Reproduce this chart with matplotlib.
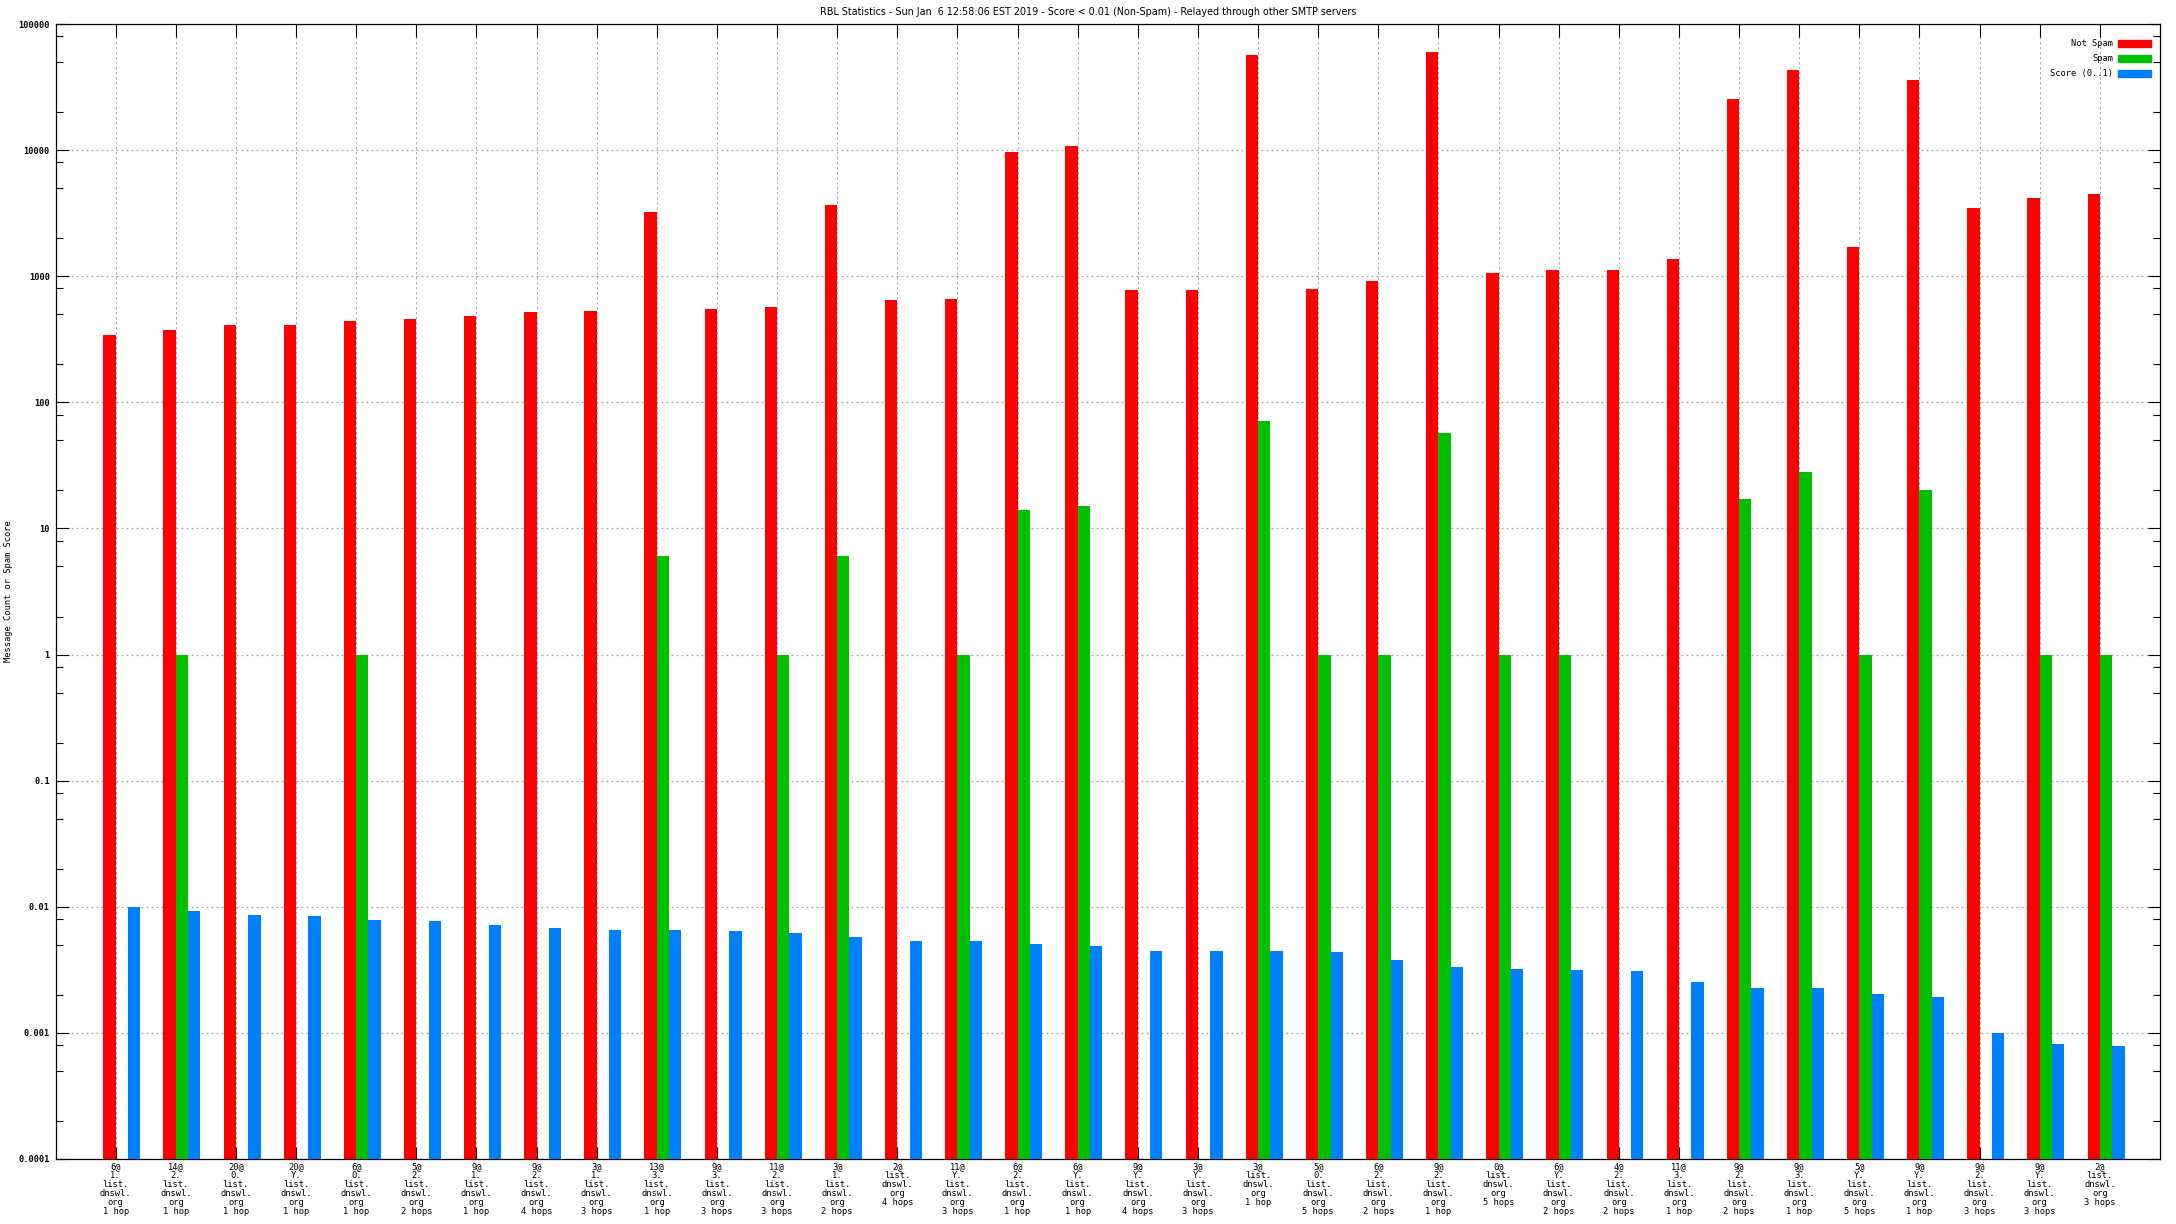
# -*- coding: utf-8 -*-
import numpy as np
import matplotlib
matplotlib.use('Agg')
import matplotlib.pyplot as plt
from matplotlib.ticker import FixedLocator, LogLocator, NullFormatter
from matplotlib.patches import Rectangle

# values
hits = [6, 14, 20, 20, 6, 5, 9, 9, 3, 13, 9, 11, 3, 2, 11, 6, 6,
        9, 3, 3, 5, 6, 9, 0, 6, 4, 11, 9, 9, 5, 9, 9, 9, 2]
zones = ['1.', '2.', '0.', 'Y.', '0.', '2.', '1.', '2.', '1.', '3.', '3.', '2.',
         '1.', '', 'Y.', '2.', 'Y.', 'Y.', 'Y.', '', '0.', '2.', '2.', '',
         'Y.', '2.', '3.', '2.', '3.', 'Y.', 'Y.', '2.', 'Y.', '']
hops = [1, 1, 1, 1, 1, 2, 1, 4, 3, 1, 3, 3, 2, 4, 3, 1, 1,
        4, 3, 1, 5, 2, 1, 5, 2, 2, 1, 2, 1, 5, 1, 3, 3, 3]

not_spam = [342, 375, 411, 411, 443, 459, 484, 521, 531, 3240, 551, 571,
            3680, 649, 661, 9700, 10800, 779, 779, 57150, 793, 918, 60230,
            1063, 1123, 1123, 1373, 25530, 43450, 1710, 36140, 3485, 4180, 4500]
spam = [0, 1, 0, 0, 1, 0, 0, 0, 0, 6, 0, 1, 6, 0, 1, 14, 15,
        0, 0, 71, 1, 1, 57, 1, 1, 0, 0, 17, 28, 1, 20, 0, 1, 1]
score = [0.01, 0.00918, 0.00853, 0.00838, 0.0078, 0.00765, 0.00711, 0.00673,
         0.00649, 0.00649, 0.00637, 0.00614, 0.00571, 0.0054, 0.00531, 0.00503,
         0.00485, 0.00442, 0.00442, 0.00442, 0.00434, 0.00375, 0.0033, 0.00324,
         0.00313, 0.00307, 0.00251, 0.00229, 0.00225, 0.00205, 0.00191, 0.001,
         0.00082, 0.00078]

series_names = ['Not Spam', 'Spam', 'Score (0..1)']
colors = ['#ff0000', '#00c000', '#0080ff']

labels = []
for h, z, n in zip(hits, zones, hops):
    parts = ['%d@' % h]
    if z:
        parts.append(z)
    parts += ['list.', 'dnswl.', 'org', '%d hop%s' % (n, '' if n == 1 else 's')]
    labels.append('\n'.join(parts))

W, H = 2176, 1224
fig = plt.figure(figsize=(W / 100, H / 100), dpi=100)
plt.rcParams['font.family'] = ['DejaVu Sans']
mono = 'DejaVu Sans Mono'

left, right, top, bottom = 55.5, 2160, 24, 1159
ax = fig.add_axes([left / W, 1 - bottom / H, (right - left) / W, (bottom - top) / H])
ax.set_yscale('log')

base = 1e-4
bw = 0.205
x = np.arange(len(labels))
for k, (vals, c) in enumerate(zip([not_spam, spam, score], colors)):
    v = np.asarray(vals, dtype=float)
    m = v > 0
    ax.bar(x[m] + (k - 1) * bw, v[m] - base, width=bw, bottom=base,
           align='edge', color=c, linewidth=0, zorder=3)

ax.set_xlim(-1, len(labels))
ax.set_ylim(1e-4, 1e5)

decades = [10.0 ** e for e in range(-4, 6)]
ax.yaxis.set_major_locator(FixedLocator(decades))
ax.set_yticklabels(['%g' % d for d in decades], family=mono, fontsize=6.2,
                   fontweight='bold')
ax.yaxis.set_minor_locator(LogLocator(base=10, subs=[2, 5, 8], numticks=50))
ax.yaxis.set_minor_formatter(NullFormatter())

ax.set_xticks(x)
ax.set_xticklabels(labels, family=mono, fontsize=6.3, linespacing=1.0,
                   va='top')

ax.tick_params(axis='both', which='major', direction='in', length=9, width=0.8,
               top=True, right=True, pad=2.5)
ax.tick_params(axis='y', which='minor', direction='in', length=5, width=0.8,
               right=True)
ax.tick_params(axis='y', which='major', pad=4)

ax.grid(True, axis='y', which='major', color='#a0a0a0', linestyle=(0, (1.5, 2.5)),
        linewidth=0.9, zorder=0)
ax.grid(True, axis='x', which='major', color='#a0a0a0', linestyle=(0, (3, 3)),
        linewidth=0.6, zorder=0)
ax.set_axisbelow(True)
for s in ax.spines.values():
    s.set_linewidth(0.9)

fig.text(4 / W, 1 - ((top + bottom) / 2) / H, 'Message Count or Spam Score',
         rotation=90, ha='left', va='center', fontsize=6.3, family=mono)
fig.text(0.5, 1 - 12 / H,
         'RBL Statistics - Sun Jan  6 12:58:06 EST 2019 - Score < 0.01 (Non-Spam) - Relayed through other SMTP servers',
         ha='center', va='center', fontsize=6.9)

# legend, top right inside the frame
for i, (name, c) in enumerate(zip(series_names, colors)):
    yc = 43.5 + 15 * i
    fig.text(2113 / W, 1 - yc / H, name, ha='right', va='center', fontsize=6.3,
             family=mono)
    fig.patches.append(Rectangle((2118 / W, 1 - (yc + 3.5) / H), 33 / W, 7 / H,
                                 transform=fig.transFigure, color=c, zorder=5))

plt.savefig('out.png', dpi=100)
plt.close()
